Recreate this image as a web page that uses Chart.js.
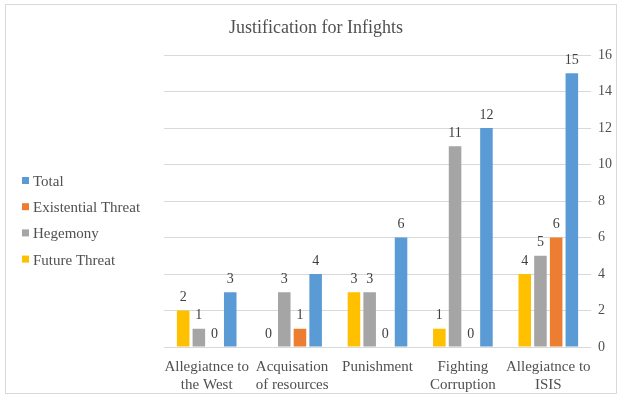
<!DOCTYPE html>
<html>
<head>
<meta charset="utf-8">
<script src="https://cdn.jsdelivr.net/npm/chart.js@4.4.1/dist/chart.umd.min.js"></script>
<style>
html,body{margin:0;padding:0;background:#fff;}
#wrap{position:relative;width:619px;height:400px;}
</style>
</head>
<body>
<div id="wrap"><canvas id="c" width="619" height="400"></canvas></div>
<script>
const chartTitle = "Justification for Infights";
const categories = [["Allegiatnce to","the West"],["Acquisation","of resources"],["Punishment"],["Fighting","Corruption"],["Allegiatnce to","ISIS"]];
const futureThreat = [2, 0, 3, 1, 4];
const hegemony = [1, 3, 3, 11, 5];
const existentialThreat = [0, 1, 0, 0, 6];
const total = [3, 4, 6, 12, 15];
const yTicks = [0, 2, 4, 6, 8, 10, 12, 14, 16];

const FONT = "'Liberation Serif', 'Times New Roman', serif";
const TXT = '#505050';

const frame = {
  id: 'frame',
  beforeDraw(chart) {
    const ctx = chart.ctx;
    ctx.save();
    ctx.fillStyle = '#fff';
    ctx.fillRect(0, 0, chart.width, chart.height);
    ctx.strokeStyle = '#d9d9d9';
    ctx.lineWidth = 1;
    ctx.strokeRect(5.5, 4.5, 611, 389);
    ctx.restore();
  }
};

const titlePlugin = {
  id: 'customTitle',
  afterDraw(chart) {
    const ctx = chart.ctx;
    ctx.save();
    ctx.font = "18px " + FONT;
    ctx.fillStyle = TXT;
    ctx.textAlign = 'center';
    ctx.textBaseline = 'middle';
    ctx.fillText(chartTitle, 316, 28);
    ctx.restore();
  }
};

const legendPlugin = {
  id: 'customLegend',
  afterDraw(chart) {
    const ctx = chart.ctx;
    ctx.save();
    ctx.font = "15px " + FONT;
    ctx.textBaseline = 'middle';
    ctx.textAlign = 'left';
    const ds = chart.data.datasets.slice().reverse();
    ds.forEach((d, i) => {
      const y = 181 + i * 26.2;
      ctx.fillStyle = d.backgroundColor;
      ctx.fillRect(22, y - 4, 7, 7);
      ctx.fillStyle = TXT;
      ctx.fillText(d.label, 33, y + 1);
    });
    ctx.restore();
  }
};

const valueLabels = {
  id: 'valueLabels',
  afterDatasetsDraw(chart) {
    const ctx = chart.ctx;
    ctx.save();
    ctx.font = "14px " + FONT;
    ctx.fillStyle = '#404040';
    ctx.textAlign = 'center';
    ctx.textBaseline = 'middle';
    chart.data.datasets.forEach((d, di) => {
      const meta = chart.getDatasetMeta(di);
      meta.data.forEach((bar, i) => {
        ctx.fillText(String(d.data[i]), bar.x, bar.y - 13);
      });
    });
    ctx.restore();
  }
};

new Chart(document.getElementById('c'), {
  type: 'bar',
  data: {
    labels: categories,
    datasets: [
      { label: 'Future Threat', data: futureThreat, backgroundColor: '#FFC000' },
      { label: 'Hegemony', data: hegemony, backgroundColor: '#A5A5A5' },
      { label: 'Existential Threat', data: existentialThreat, backgroundColor: '#ED7D31' },
      { label: 'Total', data: total, backgroundColor: '#5B9BD5' }
    ]
  },
  options: {
    responsive: false,
    animation: false,
    devicePixelRatio: 1,
    categoryPercentage: 0.735,
    barPercentage: 0.8,
    layout: { padding: { left: 164, top: 55, right: 0, bottom: 8 } },
    plugins: {
      legend: { display: false },
      title: { display: false },
      tooltip: { enabled: false }
    },
    scales: {
      x: {
        grid: { display: false, drawTicks: false },
        border: { display: false },
        ticks: { color: TXT, font: { family: FONT, size: 15, lineHeight: 1.2 }, padding: 11, maxRotation: 0, autoSkip: false },
        afterFit(s) { s.height = 45; }
      },
      y: {
        position: 'right',
        min: 0,
        max: 16,
        afterBuildTicks(s) { s.ticks = yTicks.map(v => ({ value: v })); },
        grid: { color: '#d9d9d9', drawTicks: false },
        border: { display: false },
        ticks: { color: TXT, font: { family: FONT, size: 14 }, padding: 7 },
        afterFit(s) { s.width = 28; }
      }
    }
  },
  plugins: [frame, titlePlugin, legendPlugin, valueLabels]
});
</script>
</body>
</html>
